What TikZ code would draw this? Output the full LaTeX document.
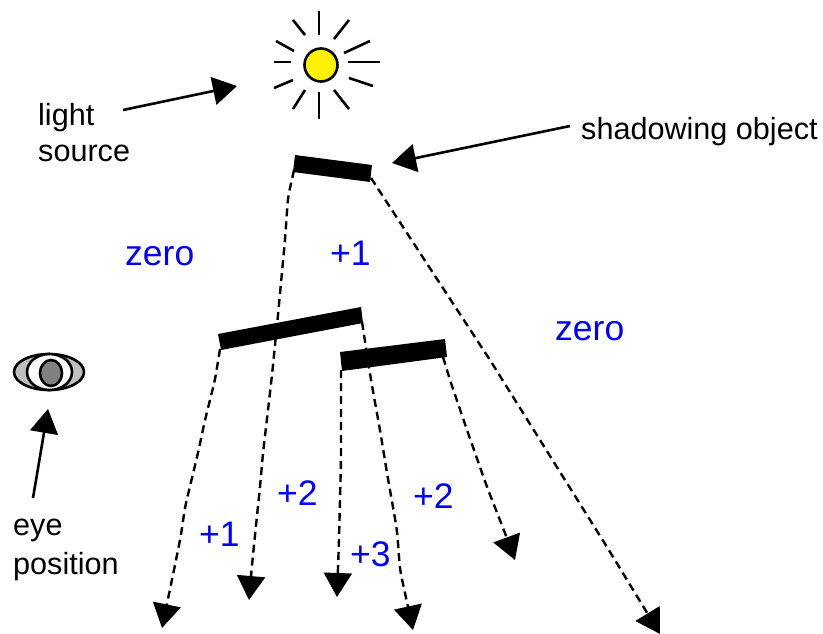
\documentclass[tikz,border=0pt]{standalone}
\usepackage{fontspec}
\setmainfont{Liberation Sans}
\usetikzlibrary{arrows.meta,shapes.geometric}
\definecolor{labelblue}{RGB}{0,0,255}
\tikzset{
  blacktext/.style={anchor=base west,inner sep=0pt,font=\fontsize{30.6}{35}\selectfont,align=left},
  bluetext/.style={anchor=base west,inner sep=0pt,text=labelblue,font=\fontsize{35.5}{40}\selectfont},
  ray/.style={line width=2.6pt},
  bar/.style={fill=black,draw=none},
  solidarrow/.style={line width=2.6pt,-{Triangle[width=28pt,length=24pt]}},
  dasharrow/.style={line width=2.4pt,dash pattern=on 8pt off 5pt,rounded corners=8pt,-{Triangle[width=28pt,length=24pt]}},
}
\begin{document}
\begin{tikzpicture}[x=1pt,y=-1pt]
\useasboundingbox (0,0) rectangle (823,633);
% sun
\node[circle,draw=black,fill=yellow,line width=2.6pt,minimum size=33pt,inner sep=0pt] (sun) at (321,65) {};
\foreach \a/\b/\c/\d in {319/11/319/35,349/20/334/39,370/41/344/53,348/62/380/62,349/78/373/86,334/90/349/109,319/92/319/119,305/90/293/109,293/80/274/88,274/62/291/62,294/51/276/41,305/35/293/20}
  \draw[ray] (\a,\b) -- (\c,\d);
% eye
\node[ellipse,draw=black,fill=black!25,line width=2.6pt,minimum width=70pt,minimum height=36pt,inner sep=0pt] (eyeouter) at (49,372) {};
\node[ellipse,draw=black,fill=white,line width=2.6pt,minimum width=45pt,minimum height=36pt,inner sep=0pt] (eyeinner) at (49.5,372) {};
\node[ellipse,draw=black,fill=black!50,line width=2.6pt,minimum width=22pt,minimum height=26pt,inner sep=0pt] (pupil) at (51,373) {};
% connector end points
\coordinate (b1l) at (294,170);
\coordinate (b1r) at (371,178);
\coordinate (b2l) at (220,349);
\coordinate (b2r) at (362,322);
\coordinate (b3l) at (341,370);
\coordinate (b3r) at (443,357);
\coordinate (t1) at (249,600);
\coordinate (t2) at (162,628);
\coordinate (t3) at (413,630);
\coordinate (t4) at (337,597);
\coordinate (t5) at (515,560);
\coordinate (t6) at (660,634);
\coordinate (sa) at (123,110);
\coordinate (sb) at (237,86);
\coordinate (sc) at (570,126);
\coordinate (sd) at (392,163);
\coordinate (se) at (33,498);
\coordinate (sf) at (48,409);
% dashed connectors
\draw[dasharrow] (b1l) -- (288,197) -- (285,240) -- (278,315) -- (272,375) -- (268,410) -- (263,453) -- (260,487) -- (255,535) -- (252,565) -- (t1);
\draw[dasharrow] (b2l) -- (215,380) -- (205,420) -- (198,453) -- (185,507) -- (181,535) -- (175,565) -- (t2);
\draw[dasharrow] (b2r) -- (371,380) -- (380,430) -- (387,473) -- (397,530) -- (400,570) -- (t3);
\draw[dasharrow] (b3l) -- (341,460) -- (339,540) -- (t4);
\draw[dasharrow] (b3r) -- (450,380) -- (467,430) -- (487,487) -- (505,533) -- (t5);
\draw[dasharrow] (b1r) -- (420,253) -- (490,360) -- (565,480) -- (607,547) -- (t6);
% shadowing bars
\fill[bar] (295,155) -- (372,165) -- (370,182) -- (293,172) -- cycle;
\fill[bar] (218,334) -- (361,307) -- (363,323) -- (221,350) -- cycle;
\fill[bar] (340,352) -- (445,339) -- (447,357) -- (342,371) -- cycle;
% solid arrows
\draw[solidarrow] (sa) -- (sb);
\draw[solidarrow] (sc) -- (sd);
\draw[solidarrow] (se) -- (sf);
% texts
\node[blacktext] (tlight) at (38,125) {light};
\node[blacktext] (tsource) at (38,161) {source};
\node[blacktext] (tshadow) at (581,139) {shadowing object};
\node[blacktext] (teye) at (13,535) {eye};
\node[blacktext] (tpos) at (13,574) {position};
\node[bluetext] (z1) at (125,265) {zero};
\node[bluetext] (p1) at (330,265) {+1};
\node[bluetext] (z2) at (555,340) {zero};
\node[bluetext] (p2a) at (277,505) {+2};
\node[bluetext] (p1b) at (199,546) {+1};
\node[bluetext] (p3) at (350,566) {+3};
\node[bluetext] (p2b) at (413,508) {+2};
\end{tikzpicture}
\end{document}
